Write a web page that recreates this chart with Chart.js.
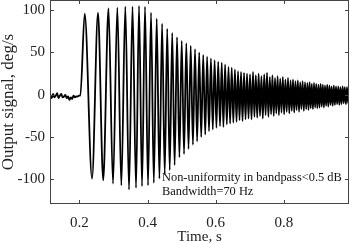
<!DOCTYPE html>
<html>
<head>
<meta charset="utf-8">
<script src="https://cdn.jsdelivr.net/npm/chart.js@4.4.0/dist/chart.umd.min.js"></script>
<style>
  html, body { margin: 0; padding: 0; background: #fff; }
</style>
</head>
<body>
<canvas id="chart" width="350" height="243"></canvas>
<script>
// pre-trigger noise, s / deg/s
const noiseTimes = [0.115, 0.119, 0.123, 0.127, 0.131, 0.135, 0.139, 0.143, 0.147, 0.151, 0.155, 0.159,
  0.163, 0.167, 0.171, 0.175, 0.179, 0.183, 0.187, 0.191, 0.195, 0.199, 0.203];
const noiseValues = [0, -4, 1, -3, -1, 2, -4, -1, 1, -3, -2, 0, -4, -2, -6, -3, -5, -1, -3, -2, -2, -1, -1];

// swing extremes of the sweep response (peak, trough, peak, ...)
const swingTimes = [
  0.2158, 0.2373, 0.2548, 0.2701, 0.2856, 0.2988, 0.3115, 0.3232, 0.3349, 0.3458,
  0.3560, 0.3663, 0.3751, 0.3839, 0.3927, 0.4015, 0.4103, 0.4185, 0.4270, 0.4349,
  0.4428, 0.4505, 0.4578, 0.4651, 0.4725, 0.4795, 0.4866, 0.4936, 0.5003, 0.5071,
  0.5138, 0.5203, 0.5267, 0.5332, 0.5393, 0.5455, 0.5516, 0.5575, 0.5634, 0.5693,
  0.5748, 0.5804, 0.5860, 0.5915, 0.5968, 0.6021, 0.6074, 0.6127, 0.6177, 0.6226,
  0.6276, 0.6326, 0.6376, 0.6423, 0.6470, 0.6517, 0.6564, 0.6611, 0.6655, 0.6699,
  0.6743, 0.6787, 0.6831, 0.6875, 0.6919, 0.6963, 0.7007, 0.7051, 0.7095, 0.7136,
  0.7177, 0.7218, 0.7259, 0.7300, 0.7341, 0.7382, 0.7423, 0.7464, 0.7505, 0.7546,
  0.7587, 0.7626, 0.7664, 0.7702, 0.7740, 0.7778, 0.7816, 0.7854, 0.7892, 0.7930,
  0.7969, 0.8007, 0.8045, 0.8083, 0.8121, 0.8159, 0.8197, 0.8232, 0.8268, 0.8303,
  0.8338, 0.8373, 0.8409, 0.8444, 0.8479, 0.8514, 0.8549, 0.8585, 0.8620, 0.8655,
  0.8690, 0.8722, 0.8755, 0.8787, 0.8819, 0.8852, 0.8884, 0.8916, 0.8948, 0.8981,
  0.9013, 0.9045, 0.9077, 0.9110, 0.9142, 0.9174, 0.9206, 0.9239, 0.9271, 0.9303,
  0.9336, 0.9368, 0.9400, 0.9432, 0.9465, 0.9497, 0.9529, 0.9561, 0.9594, 0.9626,
  0.9658, 0.9690, 0.9723, 0.9755, 0.9787, 0.9819, 0.9852, 0.9884, 0.9916
];
const swingValues = [
  96, -99, 97, -101, 102, -105, 103, -107, 104, -112,
  104, -110, 105, -108, 104, -107, 97, -104, 90, -99,
  84, -94, 78, -89, 73, -83, 68, -74, 64, -70,
  61, -64, 58, -59, 54, -55, 50, -50, 47, -47,
  45, -43, 43, -41, 41, -39, 39, -37, 38, -38,
  36, -35, 33, -34, 32, -33, 30, -32, 28, -30,
  27, -31, 26, -29, 25, -28, 24, -29, 27, -26,
  23, -27, 25, -25, 22, -28, 24, -24, 26, -26,
  21, -23, 23, -25, 20, -22, 22, -24, 19, -21,
  21, -23, 18, -20, 20, -22, 17, -19, 18, -21,
  16, -18, 17, -20, 15, -17, 16, -19, 15, -17,
  14, -18, 15, -16, 13, -17, 14, -15, 13, -16,
  12, -15, 13, -14, 12, -15, 11, -13, 12, -14,
  11, -12, 10, -13, 11, -12, 10, -11, 10, -12,
  9, -11, 10, -10, 9, -11, 9, -10, 9
];

const xTicks = [0.2, 0.4, 0.6, 0.8];
const yTicks = [-100, -50, 0, 50, 100];
const noteLines = ['Non-uniformity in bandpass<0.5 dB', 'Bandwidth=70 Hz'];

const serif = '"Liberation Serif", "Times New Roman", serif';

const points = noiseTimes.map((t, i) => ({ x: t, y: noiseValues[i] }))
  .concat(swingTimes.map((t, i) => ({ x: t, y: swingValues[i] })));

// MATLAB-style box with inward ticks, plus the text note
const boxPlugin = {
  id: 'box',
  afterDraw(chart) {
    const { ctx, chartArea: a, scales: { x, y } } = chart;
    ctx.save();
    ctx.strokeStyle = '#444';
    ctx.lineWidth = 1;
    ctx.strokeRect(a.left + 0.5, a.top + 0.5, a.right - a.left - 1, a.bottom - a.top - 1);
    ctx.beginPath();
    xTicks.forEach(v => {
      const px = Math.round(x.getPixelForValue(v)) + 0.5;
      ctx.moveTo(px, a.bottom); ctx.lineTo(px, a.bottom - 4);
      ctx.moveTo(px, a.top); ctx.lineTo(px, a.top + 4);
    });
    yTicks.forEach(v => {
      const py = Math.round(y.getPixelForValue(v)) + 0.5;
      ctx.moveTo(a.left, py); ctx.lineTo(a.left + 4, py);
      ctx.moveTo(a.right, py); ctx.lineTo(a.right - 4, py);
    });
    ctx.stroke();

    ctx.fillStyle = '#111';
    ctx.font = '12.4px ' + serif;
    ctx.textBaseline = 'middle';
    const nx = x.getPixelForValue(0.4426);
    ctx.fillText(noteLines[0], nx, y.getPixelForValue(-98));
    ctx.fillText(noteLines[1], nx, y.getPixelForValue(-115));
    ctx.restore();
  }
};

new Chart(document.getElementById('chart'), {
  type: 'line',
  data: {
    datasets: [{
      data: points,
      borderColor: '#000',
      borderWidth: 1.8,
      pointRadius: 0,
      cubicInterpolationMode: 'monotone',
      fill: false
    }]
  },
  options: {
    responsive: false,
    animation: false,
    devicePixelRatio: 1,
    layout: { padding: { top: 0, right: 1, left: 0, bottom: 0 } },
    plugins: {
      legend: { display: false },
      tooltip: { enabled: false }
    },
    scales: {
      x: {
        type: 'linear',
        min: 0.114,
        max: 0.991,
        afterBuildTicks: s => { s.ticks = xTicks.map(v => ({ value: v })); },
        afterFit: s => { s.height = 39; s.paddingLeft = 0; s.paddingRight = 0; },
        grid: { display: false, drawTicks: false },
        border: { display: false },
        ticks: {
          color: '#222',
          padding: 10,
          maxRotation: 0,
          font: { family: serif, size: 15 },
          callback: v => v.toFixed(1)
        },
        title: {
          display: true,
          text: 'Time, s',
          color: '#222',
          font: { family: serif, size: 15, lineHeight: 0.8 },
          padding: 0
        }
      },
      y: {
        min: -129,
        max: 112,
        afterBuildTicks: s => { s.ticks = yTicks.map(v => ({ value: v })); },
        afterFit: s => { s.width = 50; s.paddingTop = 0; s.paddingBottom = 0; },
        grid: { display: false, drawTicks: false },
        border: { display: false },
        ticks: {
          color: '#222',
          padding: 5,
          font: { family: serif, size: 15 },
          callback: v => String(v)
        },
        title: {
          display: true,
          text: 'Output signal, deg/s',
          color: '#222',
          font: { family: serif, size: 17, lineHeight: 1 },
          padding: 0
        }
      }
    }
  },
  plugins: [boxPlugin]
});
</script>
</body>
</html>
